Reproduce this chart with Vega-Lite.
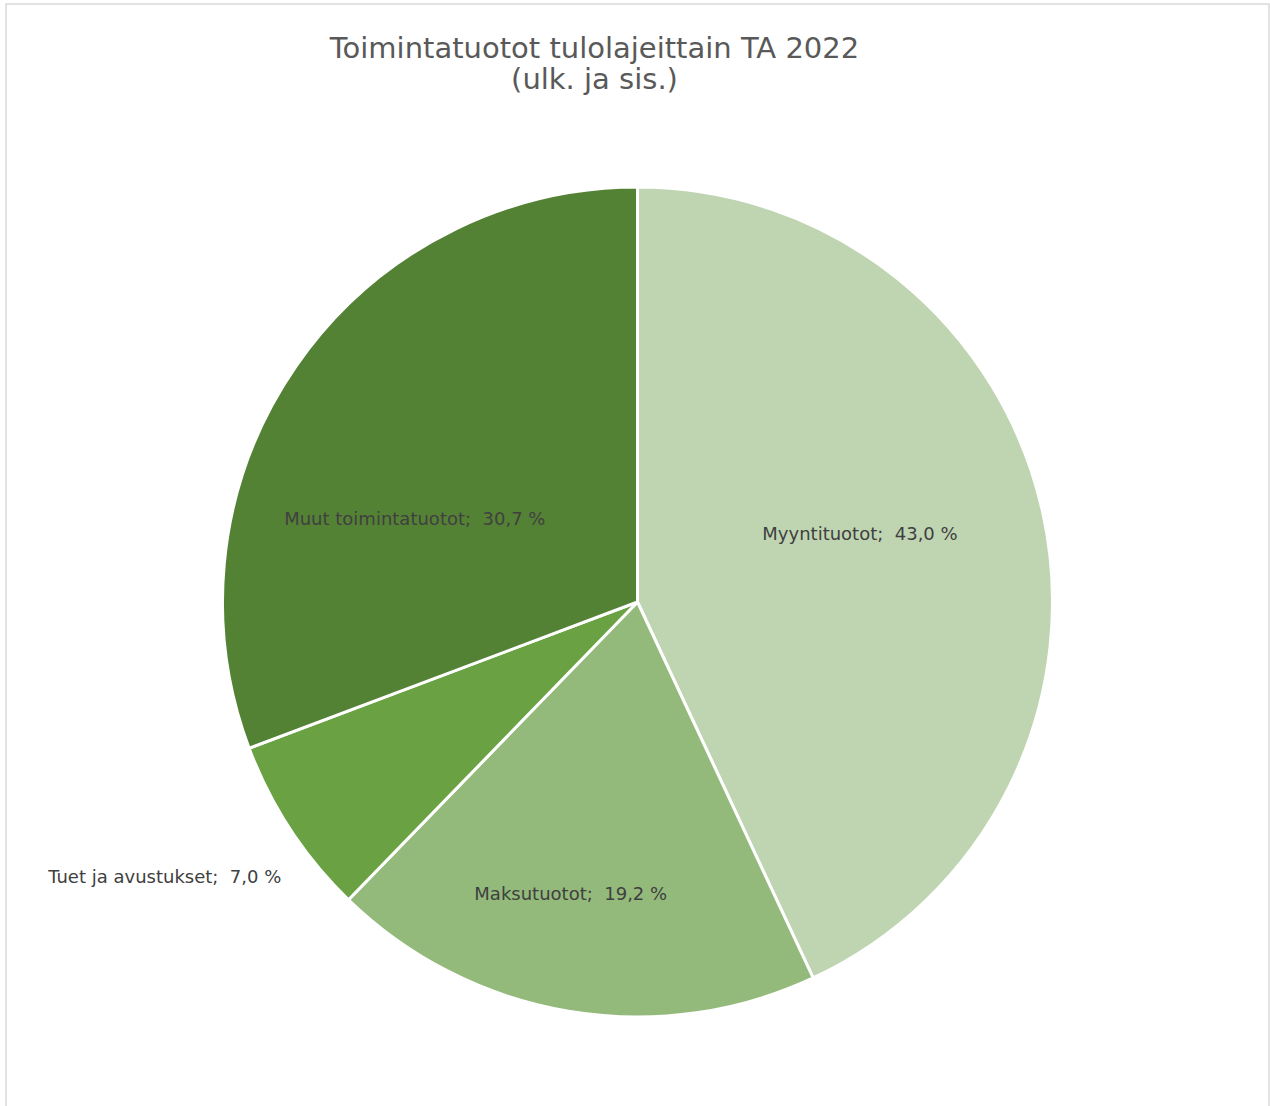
{
  "$schema": "https://vega.github.io/schema/vega-lite/v6.json",
  "width": 1270,
  "height": 1106,
  "autosize": {"type": "fit", "contains": "padding"},
  "padding": {"left": 6, "top": 4, "right": 1, "bottom": -4},
  "background": "white",
  "view": {"stroke": "#d9d9d9", "strokeWidth": 1.5, "fill": "white"},
  "title": {
    "text": ["Toimintatuotot tulolajeittain TA 2022", "(ulk. ja sis.)"],
    "font": "DejaVu Sans",
    "fontSize": 29,
    "fontWeight": "normal",
    "color": "#595959",
    "lineHeight": 31,
    "anchor": "middle",
    "offset": -91,
    "dx": -43
  },
  "data": {
    "values": [
      {"luokka": "Myyntituotot", "osuus": 43.0, "jarjestys": 1, "teksti": "Myyntituotot;\u00a0 43,0 %"},
      {"luokka": "Maksutuotot", "osuus": 19.2, "jarjestys": 2, "teksti": "Maksutuotot;\u00a0 19,2 %"},
      {"luokka": "Tuet ja avustukset", "osuus": 7.0, "jarjestys": 3, "teksti": "Tuet ja avustukset;\u00a0 7,0 %"},
      {"luokka": "Muut toimintatuotot", "osuus": 30.7, "jarjestys": 4, "teksti": "Muut toimintatuotot;\u00a0 30,7 %"}
    ]
  },
  "encoding": {
    "theta": {"field": "osuus", "type": "quantitative", "stack": true},
    "order": {"field": "jarjestys", "type": "quantitative"}
  },
  "layer": [
    {
      "mark": {"type": "arc", "outerRadius": 415, "stroke": "white", "strokeWidth": 3, "y": {"expr": "height/2 + 45"}},
      "encoding": {
        "color": {
          "field": "luokka",
          "type": "nominal",
          "scale": {
            "domain": ["Myyntituotot", "Maksutuotot", "Tuet ja avustukset", "Muut toimintatuotot"],
            "range": ["#bfd5b2", "#93ba7b", "#6aa142", "#548235"]
          },
          "legend": null
        }
      }
    },
    {
      "mark": {"type": "text", "radius": 232, "dx": -4, "dy": -17, "font": "DejaVu Sans", "fontSize": 18, "color": "#404040", "y": {"expr": "height/2 + 45"}},
      "encoding": {"text": {"condition": {"test": "datum.luokka === 'Myyntituotot'", "field": "teksti"}, "value": ""}}
    },
    {
      "mark": {"type": "text", "radius": 300, "dx": -17, "dy": -3, "font": "DejaVu Sans", "fontSize": 18, "color": "#404040", "y": {"expr": "height/2 + 45"}},
      "encoding": {"text": {"condition": {"test": "datum.luokka === 'Maksutuotot'", "field": "teksti"}, "value": ""}}
    },
    {
      "mark": {"type": "text", "radius": 238, "dx": -27, "dy": 53, "font": "DejaVu Sans", "fontSize": 18, "color": "#404040", "y": {"expr": "height/2 + 45"}},
      "encoding": {"text": {"condition": {"test": "datum.luokka === 'Muut toimintatuotot'", "field": "teksti"}, "value": ""}}
    },
    {
      "mark": {"type": "text", "radius": 451, "dx": 21, "dy": 29, "align": "right", "font": "DejaVu Sans", "fontSize": 18, "color": "#404040", "y": {"expr": "height/2 + 45"}},
      "encoding": {"text": {"condition": {"test": "datum.luokka === 'Tuet ja avustukset'", "field": "teksti"}, "value": ""}}
    }
  ]
}
